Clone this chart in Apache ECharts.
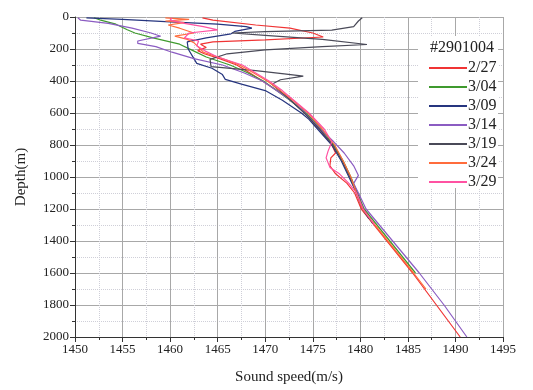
<!DOCTYPE html>
<html>
<head>
<meta charset="utf-8">
<script src="https://cdn.jsdelivr.net/npm/echarts@6/dist/echarts.min.js"></script>
<style>
html,body{margin:0;padding:0;background:#fff;}
#chart{width:533px;height:390px;}
</style>
</head>
<body>
<div id="chart"></div>
<script>
// ---- data: [sound speed (m/s), depth (m)] ----
const legendTitle = '#2901004';
const seriesNames = ['2/27', '3/04', '3/09', '3/14', '3/19', '3/24', '3/29'];
const xTicks = [1450, 1455, 1460, 1465, 1470, 1475, 1480, 1485, 1490, 1495];
const yTicks = [0, 200, 400, 600, 800, 1000, 1200, 1400, 1600, 1800, 2000];

const p0227 = [[1463.4,5],[1464.5,20],[1469,50],[1472.6,70],[1475,100],[1476.1,125],[1470,143],[1464.5,155],[1463.2,170],[1463.8,190],[1462.9,210],[1463.6,230],[1465.2,260],[1467,300],[1468.4,350],[1469.7,400],[1471,450],[1472.3,500],[1474.2,600],[1475.7,700],[1477,800],[1477.4,850],[1476.9,880],[1476.8,930],[1477.4,980],[1478.6,1040],[1479.4,1100],[1480.1,1200],[1482.8,1400],[1485.5,1600],[1488,1800],[1490.5,2000]];
const p0304 = [[1452,5],[1452.7,20],[1454.3,45],[1455.5,80],[1456.3,100],[1458.2,130],[1461,170],[1462.4,210],[1463.8,250],[1466.3,300],[1468.2,350],[1469.8,400],[1471.2,460],[1472.6,520],[1474.3,600],[1475.9,700],[1477.2,800],[1478.2,900],[1479,1000],[1479.7,1100],[1480.4,1200],[1483.1,1400],[1485.8,1600]];
const p0309 = [[1451.2,5],[1455,15],[1460,30],[1465,45],[1468,60],[1468.6,70],[1466.8,90],[1466.4,105],[1463.8,130],[1461.8,155],[1461.9,200],[1462.3,240],[1462.8,290],[1464.4,320],[1465.5,360],[1465.8,390],[1467.5,420],[1470,460],[1471.8,520],[1473.8,600],[1474.6,640],[1475.5,700],[1477,800],[1478,900],[1478.8,1000],[1479.6,1100],[1480.2,1200],[1480.9,1260]];
const p0314 = [[1450.3,5],[1450.6,20],[1453.5,40],[1456,70],[1458,100],[1459,120],[1456.6,150],[1456.6,165],[1458.5,185],[1460.2,220],[1462.5,260],[1465.5,300],[1467.8,350],[1469.7,400],[1472.2,500],[1473.9,580],[1474.5,620],[1475.8,700],[1477.2,780],[1478.3,850],[1479.3,930],[1479.8,990],[1479.3,1040],[1479.8,1100],[1480.6,1200],[1483.4,1400],[1486.2,1600],[1488.8,1800],[1491.2,2000]];
const p0319 = [[1480.2,5],[1479.8,25],[1479.3,60],[1477,82],[1470,92],[1466.5,100],[1470,115],[1476,140],[1480.7,172],[1476,185],[1470,205],[1466,230],[1464.2,265],[1464.3,310],[1469,335],[1472,355],[1474,370],[1471.6,392],[1470.7,420],[1472.3,500],[1474.1,600],[1475.7,700],[1477.1,800],[1478.1,900],[1478.9,1000],[1479.6,1100],[1480.3,1200],[1481.3,1290]];
const p0324 = [[1459.5,5],[1462,15],[1459.5,25],[1461.5,35],[1459.8,50],[1461,70],[1462.5,100],[1460.5,120],[1461.8,140],[1462.5,160],[1463,190],[1463.5,220],[1465.5,260],[1467.3,300],[1468.8,350],[1470.2,400],[1471.6,460],[1472.9,520],[1474.5,600],[1476,700],[1477.3,800],[1478.2,900],[1479,1000],[1479.6,1100],[1480.2,1200],[1482.9,1400],[1485.6,1600],[1486.9,1700]];
const p0329 = [[1460.2,5],[1460,20],[1461.5,40],[1463.5,60],[1465,80],[1462,100],[1461.5,130],[1463,150],[1462.8,180],[1463.6,210],[1465,250],[1467.6,300],[1469,350],[1470.4,400],[1471.8,460],[1473,520],[1474.6,600],[1476.2,700],[1477,780],[1476.6,840],[1476.4,880],[1476.8,940],[1477.8,980],[1478.8,1040],[1479.6,1100],[1480.3,1200],[1481.5,1300]];

const seriesData = [p0227, p0304, p0309, p0314, p0319, p0324, p0329];
const colors = ['#f03434', '#3f9a2e', '#26357f', '#8b5cc2', '#4a4a58', '#ff6c3c', '#ff52a2'];

const serif = '"Liberation Serif", "DejaVu Serif", serif';
const chart = echarts.init(document.getElementById('chart'), null, {renderer: 'canvas'});

const series = seriesNames.map((n, i) => ({
  name: n,
  type: 'line',
  data: seriesData[i],
  symbol: 'none',
  smooth: false,
  z: 2,
  lineStyle: {color: colors[i], width: 1.2},
  itemStyle: {color: colors[i]}
}));

const plain = v => String(v);

chart.setOption({
  animation: false,
  backgroundColor: '#ffffff',
  grid: {left: 75, right: 30, top: 17, bottom: 49, containLabel: false},
  xAxis: {
    type: 'value',
    min: xTicks[0], max: xTicks[xTicks.length - 1], interval: 5,
    name: 'Sound speed(m/s)',
    nameLocation: 'middle', nameGap: 33,
    nameTextStyle: {fontFamily: serif, fontSize: 15, color: '#222'},
    axisLine: {onZero: false, lineStyle: {color: '#333', width: 1}},
    axisTick: {show: true, inside: false, length: 5, lineStyle: {color: '#333'}},
    minorTick: {show: true, splitNumber: 2, length: 3, lineStyle: {color: '#333'}},
    axisLabel: {fontFamily: serif, fontSize: 13, color: '#222', margin: 6, formatter: plain},
    splitLine: {show: true, lineStyle: {color: '#a8a8a8', width: 1}},
    minorSplitLine: {show: true, lineStyle: {color: '#cfcfd8', type: 'dotted', width: 1}}
  },
  yAxis: {
    type: 'value',
    inverse: true,
    min: yTicks[0], max: yTicks[yTicks.length - 1], interval: 200,
    name: 'Depth(m)',
    nameLocation: 'middle', nameGap: 46, nameRotate: 90,
    nameTextStyle: {fontFamily: serif, fontSize: 15, color: '#222'},
    axisLine: {show: true, onZero: false, lineStyle: {color: '#333', width: 1}},
    axisTick: {show: true, inside: false, length: 5, lineStyle: {color: '#333'}},
    minorTick: {show: true, splitNumber: 2, length: 3, lineStyle: {color: '#333'}},
    axisLabel: {fontFamily: serif, fontSize: 13, color: '#222', margin: 6, formatter: plain},
    splitLine: {show: true, lineStyle: {color: '#a8a8a8', width: 1}},
    minorSplitLine: {show: true, lineStyle: {color: '#cfcfd8', type: 'dotted', width: 1}}
  },
  legend: {
    orient: 'vertical',
    left: 424, top: 55,
    icon: 'rect',
    itemWidth: 38, itemHeight: 2, itemGap: 3,
    data: seriesNames,
    textStyle: {fontFamily: serif, fontSize: 16, color: '#222', padding: [0, 0, 0, -4], lineHeight: 16},
    z: 6
  },
  graphic: [
    {type: 'rect', shape: {x: 418, y: 36, width: 80, height: 152}, style: {fill: '#ffffff'}, z: 4, silent: true},
    {type: 'text', x: 430, y: 40, style: {text: legendTitle, font: '16px ' + serif, fill: '#222'}, z: 6, silent: true}
  ],
  series: series
});
</script>
</body>
</html>
